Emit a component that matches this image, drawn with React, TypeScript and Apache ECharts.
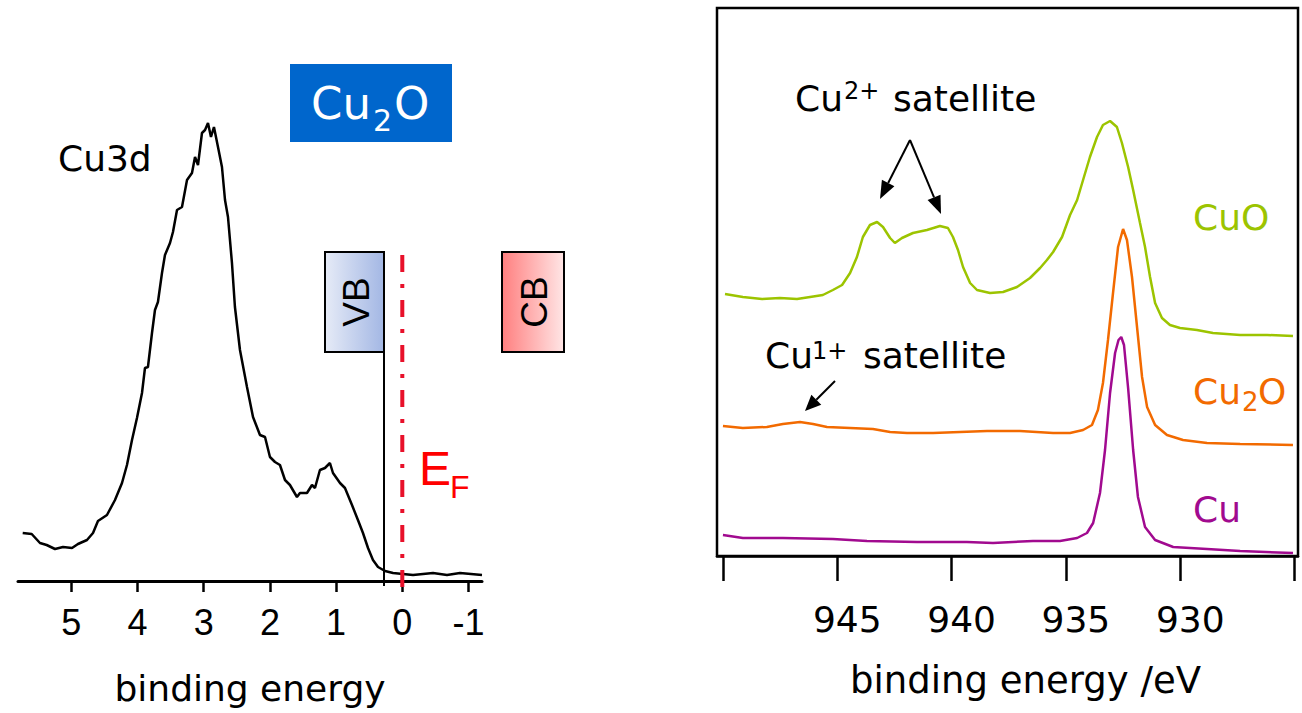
import React, { useEffect, useRef } from "react";
import * as echarts from "echarts";

// Left panel: Cu3d valence band spectrum (binding energy eV, intensity a.u.)
const cu3dEnergy = [5.734, 5.598, 5.473, 5.372, 5.246, 5.125, 4.989, 4.899, 4.763, 4.672, 4.597, 4.461, 4.34, 4.234, 4.159, 4.083, 4.008, 3.932, 3.887, 3.842, 3.781, 3.736, 3.691, 3.63, 3.585, 3.509, 3.464, 3.403, 3.328, 3.252, 3.177, 3.131, 3.086, 3.026, 2.98, 2.935, 2.89, 2.845, 2.784, 2.724, 2.678, 2.633, 2.573, 2.528, 2.452, 2.346, 2.255, 2.15, 2.074, 1.999, 1.923, 1.848, 1.772, 1.697, 1.591, 1.546, 1.44, 1.364, 1.319, 1.244, 1.168, 1.093, 1.047, 0.941, 0.866, 0.76, 0.67, 0.594, 0.518, 0.443, 0.367, 0.261, 0.14, -0.011, -0.162, -0.464, -0.675, -0.872, -1.204];
const cu3dIntensity = [48, 47, 38, 36, 32, 34, 33, 37, 41, 48, 60, 66, 81, 98, 116, 141, 163, 188, 213, 214, 248, 271, 279, 308, 326, 338, 349, 371, 374, 401, 408, 424, 416, 448, 451, 458, 444, 454, 434, 414, 381, 364, 318, 274, 231, 194, 164, 146, 144, 124, 119, 116, 101, 96, 84, 88, 88, 96, 93, 111, 113, 118, 108, 98, 93, 76, 61, 48, 33, 21, 14, 10, 8, 7, 6, 8, 6, 8, 6];
const leftTicks = [5, 4, 3, 2, 1, 0, -1];
const vbEdge = 0.276;
const fermiLevel = 0;

// Right panel: Cu 2p3/2 spectra
const cuoEnergy = [949.91, 949.13, 948.29, 947.51, 946.76, 946.19, 945.63, 945.19, 944.79, 944.44, 944.14, 943.88, 943.57, 943.26, 943.0, 942.69, 942.48, 942.17, 941.69, 941.08, 940.51, 940.16, 939.94, 939.72, 939.5, 939.19, 938.89, 938.32, 937.75, 937.14, 936.57, 936.13, 935.83, 935.56, 935.17, 934.82, 934.51, 934.25, 933.95, 933.64, 933.38, 933.07, 932.77, 932.55, 932.28, 932.06, 931.76, 931.54, 931.32, 931.1, 930.8, 930.45, 930.01, 929.27, 928.57, 927.38, 926.2, 925.07];
const cuoIntensity = [262, 259, 257, 258, 257, 259, 261, 266, 271, 283, 299, 319, 331, 334, 329, 318, 313, 318, 323, 326, 330, 328, 319, 306, 289, 273, 266, 263, 264, 269, 278, 288, 296, 304, 319, 341, 356, 376, 399, 419, 431, 435, 429, 413, 389, 366, 333, 309, 279, 253, 238, 231, 228, 226, 223, 221, 221, 220];
const cu2oEnergy = [950.0, 949.13, 948.08, 947.38, 946.63, 946.06, 945.45, 944.44, 943.44, 942.69, 941.95, 940.81, 939.63, 938.45, 937.01, 935.56, 934.82, 934.25, 933.86, 933.6, 933.38, 933.16, 932.94, 932.72, 932.5, 932.33, 932.11, 931.89, 931.67, 931.45, 931.1, 930.58, 929.88, 928.83, 927.38, 925.07];
const cu2oIntensity = [130, 128, 129, 132, 134, 132, 129, 128, 127, 124, 123, 123, 124, 125, 125, 123, 123, 126, 131, 146, 173, 216, 263, 309, 327, 316, 279, 229, 179, 149, 131, 121, 116, 113, 112, 111];
const cuEnergy = [950.0, 949.13, 947.38, 945.19, 943.7, 941.51, 939.33, 938.19, 936.44, 935.26, 934.51, 934.08, 933.81, 933.51, 933.29, 933.07, 932.85, 932.7, 932.58, 932.46, 932.28, 932.06, 931.85, 931.54, 931.1, 930.31, 928.83, 927.38, 925.07];
const cuIntensity = [21, 18, 18, 17, 15, 14, 14, 13, 15, 15, 18, 23, 33, 63, 106, 163, 203, 216, 219, 211, 168, 106, 59, 29, 16, 9, 7, 5, 3];
const rightTicks = [950, 945, 940, 935, 930, 925];
const rightLabels = [945, 940, 935, 930];

const pairs = (xs: number[], ys: number[]) => xs.map((x, i) => [x, ys[i]]);

const DV = "DejaVu Sans";
const LS = "Liberation Sans";
const GREEN = "#9cc400";
const ORANGE = "#f26a00";
const PURPLE = "#a10a8f";

function arrow(x1: number, y1: number, x2: number, y2: number, headLen = 18, headHalf = 7) {
  const dx = x2 - x1, dy = y2 - y1;
  const len = Math.hypot(dx, dy);
  const ux = dx / len, uy = dy / len;
  const bx = x2 - headLen * ux, by = y2 - headLen * uy;
  const nx = -uy * headHalf, ny = ux * headHalf;
  return [
    { type: "line", shape: { x1, y1, x2: bx, y2: by }, style: { stroke: "#000", lineWidth: 2 } },
    { type: "polygon", shape: { points: [[x2, y2], [bx + nx, by + ny], [bx - nx, by - ny]] }, style: { fill: "#000" } },
  ];
}

function txt(text: string, x: number, y: number, size: number, fill: string, family = DV, extra: any = {}) {
  return {
    type: "text",
    x,
    y,
    style: { text, fontSize: size, fontFamily: family, fill, align: "left", verticalAlign: "middle", ...extra },
  };
}

export default function App() {
  const ref = useRef<HTMLDivElement>(null);
  useEffect(() => {
    const chart = echarts.init(ref.current!, null, { renderer: "svg" });
    const option: any = {
      animation: false,
      backgroundColor: "#fff",
      grid: [
        { left: 18, top: 81, width: 464, height: 500 },
        { left: 717, top: 8, width: 581, height: 548, show: true, borderColor: "#000", borderWidth: 2.5 },
      ],
      xAxis: [
        {
          gridIndex: 0,
          type: "value",
          min: -1.204,
          max: 5.805,
          inverse: true,
          name: "binding energy",
          nameLocation: "middle",
          nameGap: 89,
          nameTextStyle: { fontFamily: DV, fontSize: 36, color: "#000" },
          axisLine: { lineStyle: { color: "#000", width: 3 } },
          axisTick: { customValues: leftTicks, length: 11, lineStyle: { color: "#000", width: 2.5 } },
          axisLabel: { customValues: leftTicks, fontFamily: LS, fontSize: 36, color: "#000", margin: 23 },
          splitLine: { show: false },
        },
        {
          gridIndex: 1,
          type: "value",
          min: 924.85,
          max: 950.26,
          inverse: true,
          name: "binding energy /eV",
          nameLocation: "middle",
          nameGap: 106,
          nameTextStyle: { fontFamily: DV, fontSize: 37, color: "#000", padding: [0, 0, 0, 36] },
          axisLine: { lineStyle: { color: "#000", width: 2.5 } },
          axisTick: { customValues: rightTicks, length: 25, lineStyle: { color: "#000", width: 2.5 } },
          axisLabel: { customValues: rightLabels, fontFamily: DV, fontSize: 36, color: "#000", margin: 45, padding: [0, 0, 0, 20] },
          splitLine: { show: false },
        },
      ],
      yAxis: [
        { gridIndex: 0, type: "value", min: 0, max: 500, show: false },
        { gridIndex: 1, type: "value", min: 0, max: 548, show: false },
      ],
      series: [
        {
          name: "Cu3d",
          type: "line",
          xAxisIndex: 0,
          yAxisIndex: 0,
          data: pairs(cu3dEnergy, cu3dIntensity),
          symbol: "none",
          lineStyle: { color: "#000", width: 2.5 },
        },
        {
          name: "VB edge",
          type: "line",
          xAxisIndex: 0,
          yAxisIndex: 0,
          clip: false,
          data: [[vbEdge, 229], [vbEdge, -5]],
          symbol: "none",
          lineStyle: { color: "#000", width: 2 },
        },
        {
          name: "EF",
          type: "line",
          xAxisIndex: 0,
          yAxisIndex: 0,
          clip: false,
          data: [[fermiLevel, 326], [fermiLevel, -11]],
          symbol: "none",
          lineStyle: { color: "#e8102a", width: 4, type: [17, 12, 4, 12] },
        },
        {
          name: "CuO",
          type: "line",
          xAxisIndex: 1,
          yAxisIndex: 1,
          data: pairs(cuoEnergy, cuoIntensity),
          symbol: "none",
          lineStyle: { color: GREEN, width: 2.5 },
        },
        {
          name: "Cu2O",
          type: "line",
          xAxisIndex: 1,
          yAxisIndex: 1,
          data: pairs(cu2oEnergy, cu2oIntensity),
          symbol: "none",
          lineStyle: { color: ORANGE, width: 2.5 },
        },
        {
          name: "Cu",
          type: "line",
          xAxisIndex: 1,
          yAxisIndex: 1,
          data: pairs(cuEnergy, cuIntensity),
          symbol: "none",
          lineStyle: { color: PURPLE, width: 2.5 },
        },
      ],
      graphic: [
        // Cu2O title box
        { type: "rect", shape: { x: 290, y: 64, width: 162, height: 78 }, style: { fill: "#0066cc" } },
        txt("Cu", 311, 103, 45, "#fff"),
        txt("2", 373, 120, 30, "#fff"),
        txt("O", 394, 103, 45, "#fff"),
        txt("Cu3d", 58, 158, 36, "#000"),
        // VB / CB boxes
        {
          type: "rect",
          shape: { x: 325, y: 252, width: 59, height: 100 },
          style: {
            fill: new echarts.graphic.LinearGradient(0, 0, 1, 0, [
              { offset: 0, color: "#e6ebf7" },
              { offset: 1, color: "#a3b7e4" },
            ]),
            stroke: "#000",
            lineWidth: 2,
          },
        },
        {
          type: "text",
          x: 356,
          y: 302,
          rotation: Math.PI / 2,
          style: { text: "VB", fontSize: 37, fontFamily: LS, fill: "#000", align: "center", verticalAlign: "middle" },
        },
        {
          type: "rect",
          shape: { x: 502, y: 252, width: 62, height: 100 },
          style: {
            fill: new echarts.graphic.LinearGradient(0, 0, 1, 0, [
              { offset: 0, color: "#ff7f7f" },
              { offset: 1, color: "#ffe6e6" },
            ]),
            stroke: "#000",
            lineWidth: 2,
          },
        },
        {
          type: "text",
          x: 534,
          y: 302,
          rotation: Math.PI / 2,
          style: { text: "CB", fontSize: 37, fontFamily: LS, fill: "#000", align: "center", verticalAlign: "middle" },
        },
        // E_F
        txt("E", 419, 468, 48, "#ff0000", LS),
        txt("F", 450, 487, 32, "#ff0000", LS),
        // Right panel annotations
        txt("Cu", 795, 98, 36, "#000"),
        txt("2+", 844, 91, 24, "#000"),
        txt("satellite", 893, 98, 36, "#000"),
        txt("Cu", 765, 355, 36, "#000"),
        txt("1+", 812, 351, 24, "#000"),
        txt("satellite", 863, 355, 36, "#000"),
        ...arrow(910, 140, 880, 199),
        ...arrow(910, 140, 941, 214),
        ...arrow(835, 381, 805, 411, 16, 7),
        txt("CuO", 1193, 217, 36, GREEN),
        txt("Cu", 1193, 391, 36, ORANGE),
        txt("2", 1242, 402, 26, ORANGE),
        txt("O", 1258, 391, 36, ORANGE),
        txt("Cu", 1193, 509, 36, PURPLE),
      ],
    };
    chart.setOption(option);
    return () => chart.dispose();
  }, []);
  return <div ref={ref} style={{ position: "absolute", left: 0, top: 0, width: 1302, height: 713 }} />;
}
